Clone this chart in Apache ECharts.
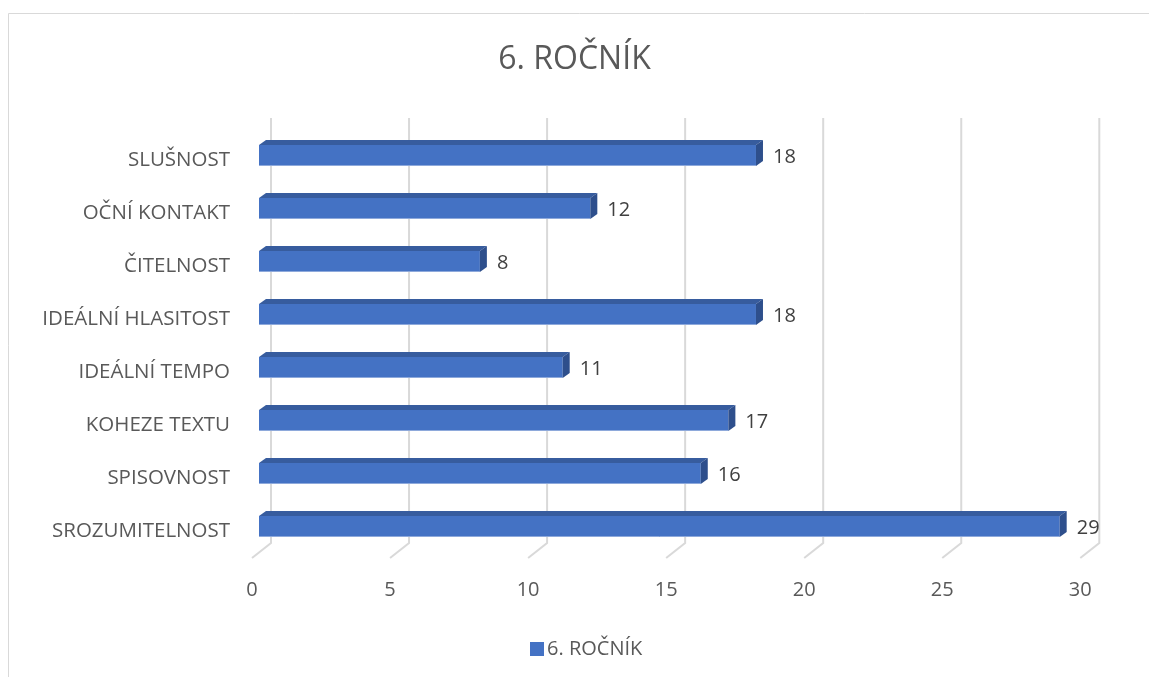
<!DOCTYPE html>
<html>
<head>
<meta charset="utf-8">
<script src="https://cdn.jsdelivr.net/npm/echarts@6/dist/echarts.min.js"></script>
<style>
html,body{margin:0;padding:0;background:#fff;}
#chart{width:1149px;height:677px;}
</style>
</head>
<body>
<div id="chart"></div>
<script>
const titleText = '6. ROČNÍK';
const seriesName = '6. ROČNÍK';
const categories = ['SROZUMITELNOST', 'SPISOVNOST', 'KOHEZE TEXTU', 'IDEÁLNÍ TEMPO', 'IDEÁLNÍ HLASITOST', 'ČITELNOST', 'OČNÍ KONTAKT', 'SLUŠNOST'];
const values = [29, 16, 17, 11, 18, 8, 12, 18];
const xTicks = [0, 5, 10, 15, 20, 25, 30];

const FONT = 'Open Sans';
const BAR_W = 21;
const DX = 7, DY = -5;

const chart = echarts.init(document.getElementById('chart'));

const option = {
  backgroundColor: '#ffffff',
  animation: false,
  title: {
    text: titleText,
    left: 'center',
    top: 39,
    textStyle: { fontFamily: FONT, fontSize: 32, fontWeight: 'normal', color: '#595959' }
  },
  legend: {
    data: [seriesName],
    left: 525,
    top: 634,
    icon: 'rect',
    itemWidth: 14,
    itemHeight: 14,
    itemGap: 10,
    textStyle: { fontFamily: FONT, fontSize: 20, color: '#595959', padding: [0, 0, 0, -2] }
  },
  graphic: [{
    type: 'rect',
    shape: { x: 8.5, y: 13.5, width: 1200, height: 700 },
    style: { fill: 'none', stroke: '#d9d9d9', lineWidth: 1 },
    silent: true, z: -10
  }],
  grid: { left: 259, right: 61.7, top: 129, bottom: 124, containLabel: false },
  xAxis: {
    type: 'value',
    min: 0,
    max: 30,
    interval: 5,
    axisLine: { show: false },
    axisTick: { show: false },
    splitLine: { show: false },
    axisLabel: {
      fontFamily: FONT, fontSize: 20, color: '#595959', margin: 27,
      padding: [0, 14, 0, 0]
    }
  },
  yAxis: {
    type: 'category',
    data: categories,
    axisLine: { show: false },
    axisTick: { show: false },
    splitLine: { show: false },
    axisLabel: {
      fontFamily: FONT, fontSize: 20.5, color: '#595959', margin: 29,
      verticalAlign: 'top', lineHeight: 10
    }
  },
  series: [
    {
      name: 'grid',
      type: 'custom',
      z: 0,
      silent: true,
      data: xTicks.map(v => [v, 0]),
      encode: { x: 0, y: 1 },
      renderItem: function (params, api) {
        const x = api.coord([api.value(0), 0])[0];
        const cs = params.coordSys;
        const yb = cs.y + cs.height;
        return {
          type: 'polyline',
          shape: { points: [[x + 12, cs.y - 11], [x + 12, yb - 10], [x - 7, yb + 5]] },
          style: { stroke: '#d9d9d9', lineWidth: 2, fill: 'none' }
        };
      }
    },
    {
      name: seriesName,
      type: 'bar',
      z: 2,
      data: values,
      barWidth: BAR_W,
      itemStyle: { color: '#4472C4' },
      label: {
        show: true,
        position: 'right',
        distance: 17,
        fontFamily: FONT,
        fontSize: 20,
        color: '#404040',
        offset: [0, 2]
      }
    },
    {
      name: 'faces',
      type: 'custom',
      z: 3,
      silent: true,
      data: values.map((v, i) => [v, i]),
      encode: { x: 0, y: 1 },
      renderItem: function (params, api) {
        const p0 = api.coord([0, api.value(1)]);
        const p1 = api.coord([api.value(0), api.value(1)]);
        const x0 = p0[0], x1 = p1[0];
        const yT = p1[1] - BAR_W / 2, yB = p1[1] + BAR_W / 2;
        return {
          type: 'group',
          children: [
            {
              type: 'polygon',
              shape: { points: [[x0, yT], [x1, yT], [x1 + DX, yT + DY], [x0 + DX, yT + DY]] },
              style: { fill: '#375C9E' }
            },
            {
              type: 'polygon',
              shape: { points: [[x1, yT], [x1 + DX, yT + DY], [x1 + DX, yB + DY], [x1, yB]] },
              style: { fill: '#2E4F8C' }
            },
            {
              type: 'line',
              shape: { x1: x0, y1: yB - 0.5, x2: x1, y2: yB - 0.5 },
              style: { stroke: '#8EA9DB', lineWidth: 1 }
            }
          ]
        };
      }
    }
  ]
};

chart.setOption(option);
</script>
</body>
</html>
